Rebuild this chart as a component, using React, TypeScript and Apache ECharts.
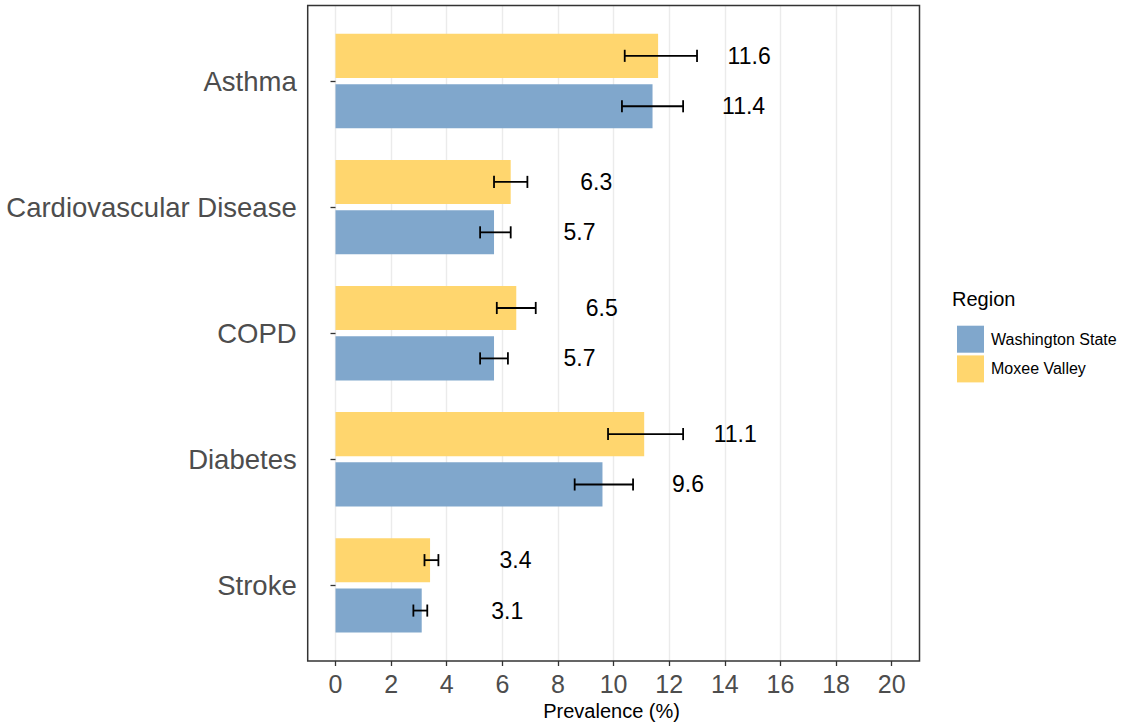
import React, { useEffect, useRef } from 'react';
import * as echarts from 'echarts';

const categories = ['Asthma', 'Cardiovascular Disease', 'COPD', 'Diabetes', 'Stroke'];
const regions = ['Washington State', 'Moxee Valley'];

const waValues = [11.4, 5.7, 5.7, 9.6, 3.1];
const waLow = [10.3, 5.2, 5.2, 8.6, 2.8];
const waHigh = [12.5, 6.3, 6.2, 10.7, 3.3];

const mvValues = [11.6, 6.3, 6.5, 11.1, 3.4];
const mvLow = [10.4, 5.7, 5.8, 9.8, 3.2];
const mvHigh = [13.0, 6.9, 7.2, 12.5, 3.7];

const xTickMin = 0;
const xTickMax = 20;
const xTickStep = 2;
const LABEL_NUDGE = 2.5;
const X_TITLE = 'Prevalence (%)';
const LEGEND_TITLE = 'Region';

const FONT = "'Liberation Sans', Arial, Helvetica, sans-serif";
const BLUE = '#80A7CC';
const YELLOW = '#FFD66E';

export default function App() {
  const ref = useRef<HTMLDivElement>(null);

  useEffect(() => {
    if (!ref.current) return;
    const chart = echarts.init(ref.current, null, { renderer: 'svg' });

    const PANEL = { left: 307.7, top: 5.4, width: 611.8, height: 655.6 };
    const X_MIN = xTickMin - 1;
    const X_MAX = xTickMax + 1;
    const unit = PANEL.width / (X_MAX - X_MIN);
    const band = PANEL.height / (categories.length + 0.2);

    const tickGrid = {
      left: PANEL.left + unit * (xTickMin - X_MIN),
      width: unit * (xTickMax - xTickMin),
      top: PANEL.top,
      height: PANEL.height,
    };
    const barGrid = {
      left: PANEL.left,
      width: PANEL.width,
      top: PANEL.top + band * 0.1,
      height: band * categories.length,
    };

    const makeErr = (name: string, vals: number[], lo: number[], hi: number[], frac: number) => ({
      type: 'custom',
      name,
      xAxisIndex: 1,
      yAxisIndex: 1,
      z: 5,
      silent: true,
      data: categories.map((_, i) => [vals[i], lo[i], hi[i], i]),
      encode: { x: [0, 1, 2], y: 3 },
      renderItem: (params: any, api: any) => {
        const cat = api.value(3);
        const bandH = api.size([0, 1])[1];
        const pLo = api.coord([api.value(1), cat]);
        const pHi = api.coord([api.value(2), cat]);
        const y = pLo[1] + bandH * frac;
        const cap = bandH * 0.048;
        const v = api.value(0);
        const lx = api.coord([v + LABEL_NUDGE, cat])[0];
        const st = { stroke: '#000', lineWidth: 1.8 };
        return {
          type: 'group',
          children: [
            { type: 'line', shape: { x1: pLo[0], y1: y, x2: pHi[0], y2: y }, style: st },
            { type: 'line', shape: { x1: pLo[0], y1: y - cap, x2: pLo[0], y2: y + cap }, style: st },
            { type: 'line', shape: { x1: pHi[0], y1: y - cap, x2: pHi[0], y2: y + cap }, style: st },
            {
              type: 'text',
              x: lx,
              y,
              style: {
                text: v.toFixed(1),
                fill: '#000',
                fontSize: 23,
                fontFamily: FONT,
                align: 'left',
                verticalAlign: 'middle',
              },
            },
          ],
        };
      },
    });

    const option: any = {
      animation: false,
      backgroundColor: '#fff',
      grid: [
        { ...tickGrid, containLabel: false },
        { ...barGrid, containLabel: false },
      ],
      xAxis: [
        {
          type: 'value',
          gridIndex: 0,
          min: xTickMin,
          max: xTickMax,
          interval: xTickStep,
          axisLine: { show: false },
          axisTick: { show: true, length: 5, lineStyle: { color: '#333', width: 1.3 } },
          axisLabel: { fontSize: 25, color: '#4D4D4D', fontFamily: FONT, margin: 10 },
          splitLine: { show: true, lineStyle: { color: '#EBEBEB', width: 1.4 } },
        },
        {
          type: 'value',
          gridIndex: 1,
          min: X_MIN,
          max: X_MAX,
          show: false,
        },
      ],
      yAxis: [
        { type: 'value', gridIndex: 0, min: 0, max: 1, show: false },
        {
          type: 'category',
          gridIndex: 1,
          data: categories,
          inverse: true,
          axisLine: { show: false },
          axisTick: { show: true, alignWithLabel: true, length: 5, lineStyle: { color: '#333', width: 1.3 } },
          axisLabel: { fontSize: 27.5, color: '#4D4D4D', fontFamily: FONT, margin: 11 },
          splitLine: { show: false },
        },
      ],
      legend: {
        data: regions,
        orient: 'vertical',
        left: 952,
        top: 320.7,
        itemWidth: 27,
        itemHeight: 27,
        itemGap: 2.7,
        icon: 'rect',
        selectedMode: false,
        textStyle: { fontSize: 16, color: '#000', fontFamily: FONT, padding: [0, 0, 0, 2] },
      },
      graphic: [
        {
          type: 'rect',
          z: 100,
          silent: true,
          shape: { x: PANEL.left, y: PANEL.top, width: PANEL.width, height: PANEL.height },
          style: { fill: 'none', stroke: '#333', lineWidth: 1.5 },
        },
        {
          type: 'text',
          left: 952,
          top: 289,
          style: { text: LEGEND_TITLE, fontSize: 20, fill: '#000', fontFamily: FONT },
        },
        {
          type: 'text',
          x: tickGrid.left + tickGrid.width / 2 - 2,
          y: 711,
          style: {
            text: X_TITLE,
            fontSize: 20,
            fill: '#000',
            fontFamily: FONT,
            align: 'center',
            verticalAlign: 'middle',
          },
        },
      ],
      series: [
        {
          type: 'bar',
          name: 'Moxee Valley',
          xAxisIndex: 1,
          yAxisIndex: 1,
          data: mvValues,
          barWidth: '35%',
          barGap: '14%',
          itemStyle: { color: YELLOW },
          silent: true,
        },
        {
          type: 'bar',
          name: 'Washington State',
          xAxisIndex: 1,
          yAxisIndex: 1,
          data: waValues,
          barWidth: '35%',
          barGap: '14%',
          itemStyle: { color: BLUE },
          silent: true,
        },
        makeErr('err-mv', mvValues, mvLow, mvHigh, -0.2),
        makeErr('err-wa', waValues, waLow, waHigh, 0.2),
      ],
    };

    chart.setOption(option);
    return () => {
      chart.dispose();
    };
  }, []);

  return (
    <div
      ref={ref}
      style={{ position: 'fixed', left: 0, top: 0, width: 1124, height: 723 }}
    />
  );
}
